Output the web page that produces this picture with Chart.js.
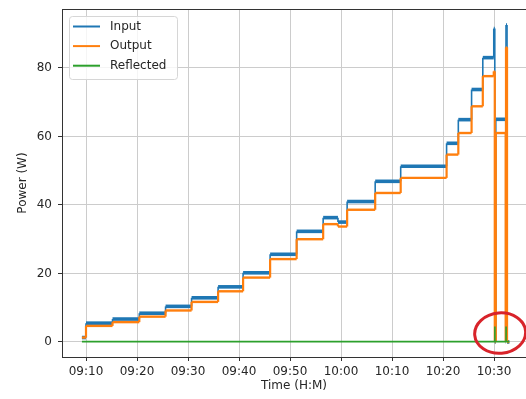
<!DOCTYPE html>
<html><head><meta charset="utf-8">
<script src="https://cdn.jsdelivr.net/npm/chart.js@4.4.1/dist/chart.umd.min.js"></script>
<style>html,body{margin:0;padding:0;background:#fff;overflow:hidden}canvas{display:block}</style>
</head><body>
<canvas id="c" width="526" height="399"></canvas>
<script>
// minutes after 09:00 at which the power level changes (each level holds until the next time)
const changeTimes    = [9.2, 10.0, 15.2, 20.45, 25.6, 30.7, 35.9, 40.8, 46.1, 51.3, 56.5, 59.4, 61.2, 66.7, 71.7, 80.7, 83.0, 85.6, 87.8, 89.95, 90.15, 90.35, 92.3, 92.35, 92.55, 93.0];
const inputPower     = [1.3, 5.5, 6.7, 8.4, 10.4, 12.9, 16.1, 20.2, 25.6, 32.3, 36.3, 35.0, 41.0, 46.9, 51.3, 58.0, 64.9, 73.7, 83.0, 91.5, 0, 65.0, 0, 92.5, 0, 0];
const outputPower    = [1.3, 4.7, 5.8, 7.4, 9.2, 11.7, 14.8, 18.8, 24.2, 30.0, 34.4, 33.7, 38.6, 43.5, 47.9, 54.7, 61.0, 68.8, 77.6, 79.0, 0, 61.0, 0, 86.0, 0, 0];
// reflected power has its own change times (two short spikes near 10:30)
const reflectedTimes = [9.2, 90.15, 90.17, 92.35, 92.37, 93.0];
const reflectedPower = [0.1, 4.5, 0.1, 4.5, 0.1, 0.1];
const seriesNames = ['Input', 'Output', 'Reflected'];
const xTickValues = [10, 20, 30, 40, 50, 60, 70, 80, 90];
const xTickLabels = ['09:10', '09:20', '09:30', '09:40', '09:50', '10:00', '10:10', '10:20', '10:30'];
const yTickValues = [0, 20, 40, 60, 80];
// highlighted region (data units): centre time, centre power, half-width (min), half-height (W)
const highlight = {x: 91.2, y: 2.6, rx: 5.0, ry: 5.9};

// build step-shaped points: each level held until the next change time
function stepPoints(times, vals) {
  const pts = [];
  times.forEach((t, i) => {
    if (i > 0) pts.push({x: t, y: vals[i - 1]});
    pts.push({x: t, y: vals[i]});
  });
  return pts;
}
const isVertical = ctx => ctx.p0.parsed.x === ctx.p1.parsed.x;

Chart.defaults.font.family = 'DejaVu Sans';
Chart.defaults.font.size = 12;
Chart.defaults.color = '#262626';

const spinePlugin = {
  id: 'spines',
  afterDraw(chart) {
    const {ctx, chartArea: a} = chart;
    ctx.save();
    ctx.strokeStyle = '#333';
    ctx.lineWidth = 1;
    ctx.beginPath();
    ctx.moveTo(a.left, Math.round(a.top) + 0.5);
    ctx.lineTo(a.right, Math.round(a.top) + 0.5);
    ctx.stroke();
    ctx.restore();
  }
};

const ellipsePlugin = {
  id: 'highlightEllipse',
  afterDatasetsDraw(chart) {
    const {ctx, scales: {x, y}} = chart;
    const cx = x.getPixelForValue(highlight.x), cy = y.getPixelForValue(highlight.y);
    const rx = x.getPixelForValue(highlight.x + highlight.rx) - cx;
    const ry = cy - y.getPixelForValue(highlight.y + highlight.ry);
    ctx.save();
    ctx.strokeStyle = '#d8232a';
    ctx.lineWidth = 3;
    ctx.beginPath();
    ctx.ellipse(cx, cy, rx, ry, -0.08, 0, Math.PI * 2);
    ctx.stroke();
    ctx.restore();
  }
};

const legendPlugin = {
  id: 'mplLegend',
  afterDraw(chart) {
    const {ctx, chartArea: a} = chart;
    const bx = Math.round(a.left) + 7, by = Math.round(a.top) + 7, bw = 108, bh = 63, r = 3;
    ctx.save();
    ctx.fillStyle = 'rgba(255,255,255,0.8)';
    ctx.strokeStyle = '#d6d6d6';
    ctx.lineWidth = 1;
    ctx.beginPath();
    ctx.roundRect(bx + 0.5, by + 0.5, bw, bh, r);
    ctx.fill();
    ctx.stroke();
    ctx.font = '12px "DejaVu Sans"';
    ctx.textBaseline = 'middle';
    ctx.textAlign = 'left';
    chart.data.datasets.forEach((ds, i) => {
      const yy = by + 10.5 + i * 19.6;
      ctx.strokeStyle = ds.borderColor;
      ctx.lineWidth = 2;
      ctx.beginPath();
      ctx.moveTo(bx + 4, yy);
      ctx.lineTo(bx + 31, yy);
      ctx.stroke();
      ctx.fillStyle = '#262626';
      ctx.fillText(ds.label, bx + 41, yy);
    });
    ctx.restore();
  }
};

const zeroPad = s => { s.paddingTop = 0; s.paddingBottom = 0; s.paddingLeft = 0; s.paddingRight = 0; };

new Chart(document.getElementById('c'), {
  type: 'line',
  data: {
    datasets: [
      {label: seriesNames[0], data: stepPoints(changeTimes, inputPower), borderColor: '#1f77b4', borderWidth: 3.6,
       segment: {borderWidth: c => isVertical(c) ? 1.6 : 3.6}, pointRadius: 0, order: 3},
      {label: seriesNames[1], data: stepPoints(changeTimes, outputPower), borderColor: '#ff7f0e', borderWidth: 2.4,
       segment: {borderWidth: c => isVertical(c) ? 2.2 : 2.4}, pointRadius: 0, order: 2},
      {label: seriesNames[2], data: stepPoints(reflectedTimes, reflectedPower), borderColor: '#2ca02c', borderWidth: 1.6,
       pointRadius: 0, order: 1}
    ]
  },
  options: {
    responsive: false,
    animation: false,
    devicePixelRatio: 1,
    layout: {padding: {top: 9, right: 0, bottom: 0, left: 0}},
    plugins: {legend: {display: false}, tooltip: {enabled: false}},
    scales: {
      x: {
        type: 'linear',
        min: 5.294, max: 96.27,
        afterBuildTicks: s => { s.ticks = xTickValues.map(v => ({value: v})); },
        afterFit: s => { s.height = 42; zeroPad(s); },
        ticks: {
          autoSkip: false, maxRotation: 0, padding: 4,
          callback: (v) => xTickLabels[xTickValues.indexOf(v)] ?? ''
        },
        grid: {color: '#cccccc', lineWidth: 1, tickColor: '#333', tickLength: 4},
        border: {color: '#333', width: 1},
        title: {display: true, text: 'Time (H:M)', padding: {top: 0, bottom: 6}, font: {size: 12}}
      },
      y: {
        type: 'linear',
        min: -4.38, max: 97.2,
        afterBuildTicks: s => { s.ticks = yTickValues.map(v => ({value: v})); },
        afterFit: s => { s.width = 62; zeroPad(s); },
        ticks: {padding: 6, callback: v => String(v)},
        grid: {color: '#cccccc', lineWidth: 1, tickColor: '#333', tickLength: 4},
        border: {color: '#333', width: 1},
        title: {display: true, text: 'Power (W)', padding: {top: 16, bottom: 0}, font: {size: 12}}
      }
    }
  },
  plugins: [spinePlugin, ellipsePlugin, legendPlugin]
});
</script>
</body></html>
